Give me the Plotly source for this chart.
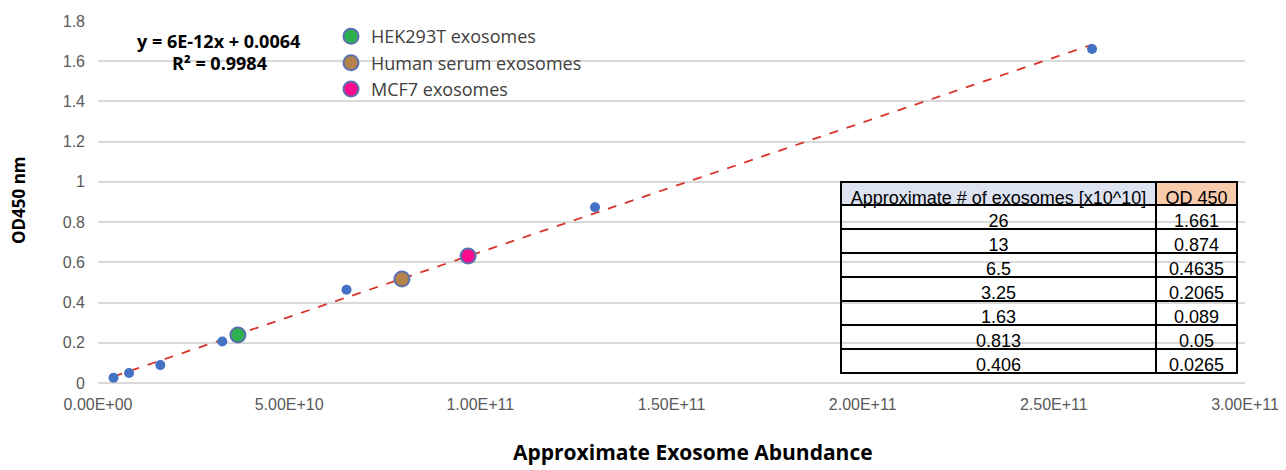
import numpy as np
import plotly.graph_objects as go

# Data
abundance_e10 = [26, 13, 6.5, 3.25, 1.63, 0.813, 0.406]
od450 = [1.661, 0.874, 0.4635, 0.2065, 0.089, 0.05, 0.0265]
table_abund_labels = ["26", "13", "6.5", "3.25", "1.63", "0.813", "0.406"]
table_od_labels = ["1.661", "0.874", "0.4635", "0.2065", "0.089", "0.05", "0.0265"]
table_headers = ["Approximate # of exosomes [x10^10]", "OD 450"]

samples = ["HEK293T exosomes", "Human serum exosomes", "MCF7 exosomes"]
sample_x = [3.66e10, 7.95e10, 9.68e10]
sample_y = [0.239, 0.517, 0.632]
sample_colors = ["#2eb04f", "#b5834a", "#ff0a8c"]

x_ticks = [0, 5e10, 1e11, 1.5e11, 2e11, 2.5e11, 3e11]
x_tick_labels = ["0.00E+00", "5.00E+10", "1.00E+11", "1.50E+11", "2.00E+11", "2.50E+11", "3.00E+11"]

x_vals = np.array(abundance_e10) * 1e10
y_vals = np.array(od450)

slope, intercept = np.polyfit(x_vals, y_vals, 1)
x_fit = np.array([x_vals.min(), x_vals.max()])
y_fit = slope * x_fit + intercept

L, R, T, B = 98, 41, 21, 87
W, H = 1286, 470
PW, PH = W - L - R, H - T - B


def px(x):
    return (x - L) / PW


def py(y):
    return (H - B - y) / PH


fig = go.Figure()

fig.add_trace(go.Scatter(
    x=x_fit, y=y_fit, mode="lines",
    line=dict(color="#d9342b", width=1.8, dash="dash"),
    showlegend=False, hoverinfo="skip"))

fig.add_trace(go.Scatter(
    x=x_vals, y=y_vals, mode="markers",
    marker=dict(color="#4472c4", size=10),
    showlegend=False))

for name, sx, sy, c in zip(samples, sample_x, sample_y, sample_colors):
    fig.add_trace(go.Scatter(
        x=[sx], y=[sy], mode="markers", name=name,
        marker=dict(color=c, size=15, line=dict(color="#5a6fae", width=2))))

nb = "\u00a0"
fig.add_trace(go.Table(
    domain=dict(x=[px(841), px(1237)], y=[py(375), py(182)]),
    columnwidth=[315, 81],
    header=dict(
        values=[h.replace(" ", nb) for h in table_headers],
        fill_color=["#dde3f1", "#f8cbad"],
        line=dict(color="black", width=1.5),
        font=dict(family="Liberation Sans, Arial", size=18, color="black"),
        align="center", height=23),
    cells=dict(
        values=[table_abund_labels, table_od_labels],
        fill_color="rgba(255,255,255,0)",
        line=dict(color="black", width=1.5),
        font=dict(family="Liberation Sans, Arial", size=18, color="black"),
        align="center", height=24)))

eq_font = dict(family="Open Sans, Liberation Sans", size=18, color="black")
fig.add_annotation(
    xref="paper", yref="paper", x=px(218), y=py(41), xanchor="center", yanchor="middle",
    text="<b>y = 6E-12x + 0.0064</b>", showarrow=False, font=eq_font)
fig.add_annotation(
    xref="paper", yref="paper", x=px(219), y=py(63), xanchor="center", yanchor="middle",
    text="<b>R² = 0.9984</b>", showarrow=False, font=eq_font)

fig.add_annotation(
    xref="paper", yref="paper", x=px(693), y=py(452), xanchor="center", yanchor="middle",
    text="<b>Approximate Exosome Abundance</b>", showarrow=False,
    font=dict(family="Open Sans, Liberation Sans", size=21, color="black"))
fig.add_annotation(
    xref="paper", yref="paper", x=px(18), y=py(200), xanchor="center", yanchor="middle",
    text="<b>OD450 nm</b>", showarrow=False, textangle=-90,
    font=dict(family="Open Sans, Liberation Sans", size=17, color="black"))

fig.update_layout(
    width=W, height=H,
    margin=dict(l=L, r=R, t=T, b=B, autoexpand=False),
    plot_bgcolor="white", paper_bgcolor="white",
    font=dict(family="Liberation Sans, Arial", size=16, color="#595959"),
    legend=dict(
        x=px(331), y=1.008, xanchor="left", yanchor="top",
        bgcolor="rgba(0,0,0,0)",
        font=dict(family="Open Sans, Liberation Sans", size=18, color="#404040"),
        tracegroupgap=0, itemsizing="trace"),
    xaxis=dict(
        range=[0, 3e11], tickvals=x_ticks, ticktext=x_tick_labels,
        showgrid=False, zeroline=False, showline=False, ticks="",
        ticklabelstandoff=10, ticklabeloverflow="allow", automargin=False,
        tickfont=dict(size=16, color="#595959")),
    yaxis=dict(
        range=[0, 1.8], dtick=0.2, tickformat="~g",
        showgrid=True, gridcolor="#d9d9d9", gridwidth=1.5,
        zeroline=True, zerolinecolor="#d9d9d9", zerolinewidth=1.5,
        showline=False, ticks="", ticklabelstandoff=12, automargin=False,
        tickfont=dict(size=16, color="#595959")),
)

fig.write_html("out.html", config={"displayModeBar": False},
               post_script="document.body.style.margin='0';")
